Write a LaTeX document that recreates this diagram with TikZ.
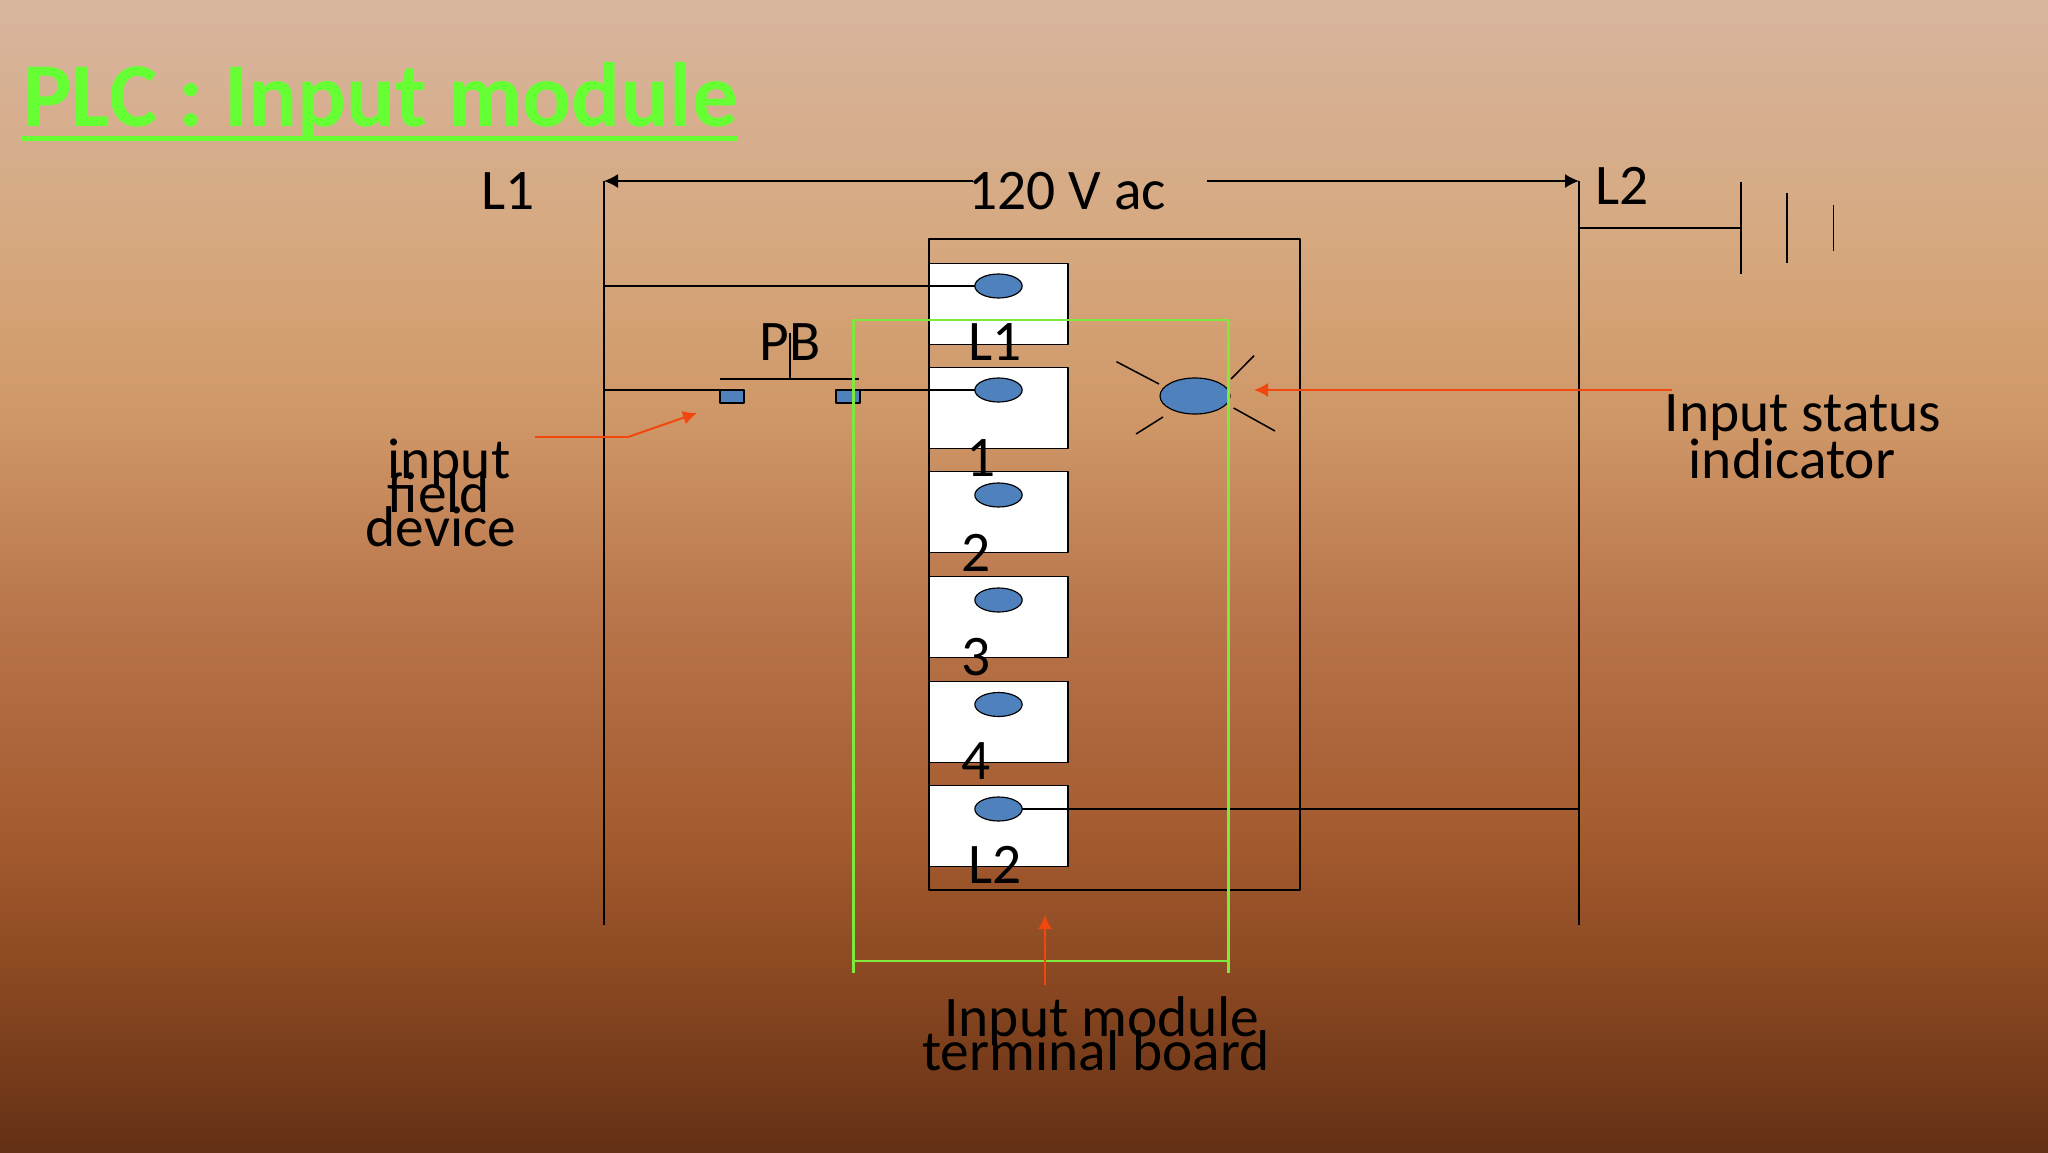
\documentclass[tikz,border=0pt]{standalone}
\usepackage{fontspec}
\setmainfont{Carlito}
\usetikzlibrary{shapes.geometric,arrows.meta}
\definecolor{slidegreen}{HTML}{66FF33}
\definecolor{boardgreen}{HTML}{7FE83C}
\definecolor{callred}{HTML}{F2460F}
\definecolor{ledblue}{HTML}{4F81BD}
\tikzset{
	wire/.style={line width=1.3pt,black},
	tipped/.style={-{Latex[length=0.42cm,width=0.42cm]}},
	callout/.style={line width=1.7pt,callred,tipped},
	board/.style={line width=2.1pt,boardgreen},
	termbox/.style={draw=black,line width=1.3pt,fill=white,inner sep=0,outer sep=0,minimum width=4.17cm,minimum height=2.44cm},
	termhole/.style={draw=black,line width=1pt,fill=ledblue,ellipse,inner sep=0,outer sep=0,minimum width=1.42cm,minimum height=0.72cm},
	contact/.style={draw=black,line width=1pt,fill=ledblue,inner sep=0,outer sep=0,minimum width=0.72cm,minimum height=0.39cm},
	lbl/.style={font=\fontsize{49}{49}\selectfont,anchor=base,inner sep=0,text=black}
}
\begin{document}
\begin{tikzpicture}[x=0.03cm,y=-0.03cm,line join=round]
	\useasboundingbox (0,0) rectangle (2048,1153);
	% slide background
	\foreach \ya/\yb/\ca/\cb in {0/250/D7B59E/D6A87E,249/420/D6A87E/CF9767,419/620/CF9767/B8744A,619/840/B8744A/A35A2E,839/1010/A35A2E/84441F,1009/1153/84441F/633015}{
		\definecolor{ctop}{HTML}{\ca}\definecolor{cbot}{HTML}{\cb}
		\shade[top color=ctop,bottom color=cbot] (0,\ya) rectangle (2048,\yb);
	}
	% title
	\node[font=\fontsize{78}{78}\selectfont\bfseries,text=slidegreen,anchor=base west,inner sep=0] (title) at (23,127) {PLC : Input module};
	\fill[slidegreen] (21,136.5) rectangle (738,141.5);
	% rails
	\coordinate (raila) at (604,181);
	\coordinate (railb) at (1579,181);
	\coordinate (raila end) at (604,925);
	\coordinate (railb end) at (1579,925);
	\draw[wire] (raila)--(raila end) (railb)--(railb end);
	% module
	\draw[wire] (929,239) rectangle (1300,890);
	\foreach \n/\y in {1/304,2/408,3/512,4/617,5/722,6/826}
		\node[termbox] (box\n) at (998.5,\y) {};
	\foreach \n/\y in {1/286,2/390,3/495,4/600,5/704.5,6/809}
		\node[termhole] (term\n) at (998.5,\y) {};
	% push button
	\node[contact] (pbl) at (732,396.5) {};
	\node[contact] (pbr) at (848,396.5) {};
	\coordinate (barl) at (720,379);
	\coordinate (barr) at (859,379);
	\coordinate (barm) at (790,379);
	\coordinate (stem) at (790,333);
	\draw[wire] (barl)--(barr) (barm)--(stem);
	% wiring
	\coordinate (wa) at (604,286);
	\coordinate (wb) at (604,390);
	\coordinate (wc) at (1579,809);
	\coordinate (wd) at (1579,228);
	\draw[wire] (wa)--(term1.west) (wb)--(pbl.north west) (pbr.north east)--(term2.west) (term6.east)--(wc);
	% ground
	\coordinate (gnd) at (1741,228);
	\draw[wire] (wd)--(gnd) (1741,182)--(1741,274) (1787,193)--(1787,263) (1833.5,205)--(1833.5,251);
	% supply arrows
	\coordinate (va) at (973,181);
	\coordinate (vb) at (1207,181);
	\draw[wire,tipped] (va)--(raila);
	\draw[wire,tipped] (vb)--(railb);
	% status lamp
	\node[termhole,minimum width=2.1cm,minimum height=1.08cm] (lamp) at (1195,396) {};
	\draw[wire] (1116.5,361.7)--(1159,384) (1254,355.7)--(1231,379) (1136,434)--(1163,417) (1233.6,408)--(1275,431);
	% green frame
	\draw[board] (853.5,973)--(853.5,320)--(1228.5,320)--(1228.5,973) (853.5,961)--(1228.5,961);
	% callouts
	\coordinate (ca) at (1671.6,390);
	\coordinate (cb) at (1254,390);
	\draw[callout] (ca)--(cb);
	\coordinate (cc) at (535,437);
	\coordinate (cd) at (628,437);
	\coordinate (ce) at (697,413);
	\draw[callout] (cc)--(cd)--(ce);
	\coordinate (cf) at (1045,985);
	\coordinate (cg) at (1045,915);
	\draw[callout] (cf)--(cg);
	% labels
	\foreach \x/\y/\t/\nm in {508/209/L1/ta,1067/209/120 V ac/tb,1622/204/L2/tc,790/360/PB/td,995/360/L1/te,981/476/1/tf,976/571/2/tg,976/675/3/th,976/779/4/ti,995/883/L2/tj,1803/431/Input status/tk,1792/478/indicator/tl,449/478/input/tm,439/512/field/tn,441/546/device/to,1102/1036/Input module/tp,1096/1070/terminal board/tq}
		\node[lbl] (\nm) at (\x,\y) {\t};
\end{tikzpicture}
\end{document}
